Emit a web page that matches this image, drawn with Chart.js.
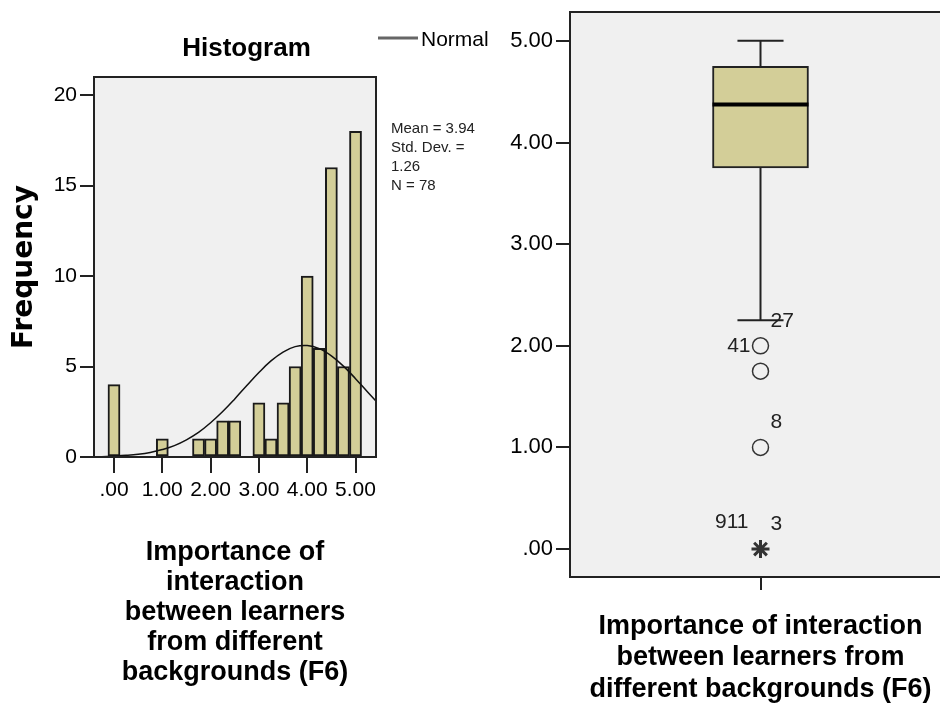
<!DOCTYPE html>
<html>
<head>
<meta charset="utf-8">
<script src="https://cdn.jsdelivr.net/npm/chart.js@4.4.0/dist/chart.umd.min.js"></script>
<style>
  html, body { margin: 0; padding: 0; background: #fff; overflow: hidden; width: 940px; height: 713px; }
  canvas { position: absolute; top: 0; }
  #histChart { left: 0; }
  #boxChart { left: 470px; }
</style>
</head>
<body>
<canvas id="histChart" width="493" height="713"></canvas>
<canvas id="boxChart" width="493" height="713"></canvas>
<script>
// histogram: bin centres (width .25) and counts, N = 78
const binCenters = [0, 1.0, 1.75, 2.0, 2.25, 2.5, 3.0, 3.25, 3.5, 3.75, 4.0, 4.25, 4.5, 4.75, 5.0];
const binCounts = [4, 1, 1, 1, 2, 2, 3, 1, 3, 5, 10, 6, 16, 5, 18];

// normal curve
const normalX = [-0.5, -0.25, 0, 0.25, 0.5, 0.75, 1, 1.25, 1.5, 1.75, 2, 2.25, 2.5, 2.75, 3, 3.25, 3.5, 3.75, 4, 4.25, 4.5, 4.75, 5, 5.25, 5.5];
const normalY = [0.01, 0.02, 0.05, 0.09, 0.15, 0.25, 0.41, 0.63, 0.95, 1.36, 1.89, 2.51, 3.21, 3.95, 4.67, 5.31, 5.80, 6.10, 6.16, 5.99, 5.59, 5.02, 4.33, 3.59, 2.87];

const histXTicks = [0, 1, 2, 3, 4, 5];
const histXLabels = ['.00', '1.00', '2.00', '3.00', '4.00', '5.00'];
const histYTicks = [0, 5, 10, 15, 20];
const histTitle = 'Histogram';
const statsLines = ['Mean = 3.94', 'Std. Dev. =', '1.26', 'N = 78'];
const histXTitle = ['Importance of', 'interaction', 'between learners', 'from different', 'backgrounds (F6)'];

// box plot
const boxCategory = ['F6'];
const whiskerLow = 2.25, q1 = 3.75, median = 4.375, q3 = 4.75, whiskerHigh = 5.0;
const outlierValues = [2.0, 1.75, 1.0, 0];
const outlierStyles = ['circle', 'circle', 'circle', 'star'];
const caseLabels = [['41', 2.0, 'left'], ['27', 2.0, 'upRight'], ['8', 1.0, 'upRight'], ['911', 0, 'upLeft'], ['3', 0, 'upRight']];
const boxYTicks = [0, 1, 2, 3, 4, 5];
const boxYLabels = ['.00', '1.00', '2.00', '3.00', '4.00', '5.00'];
const boxXTitle = ['Importance of interaction', 'between learners from', 'different backgrounds (F6)'];

const FONT = '"Liberation Sans", Arial, sans-serif';
const BAR_FILL = '#d3ce98';
const INK = '#222';

Chart.defaults.color = '#000';
Chart.defaults.font.family = FONT;

// keep the plot areas where they are in the picture
const noScalePad = s => { s.paddingTop = 0; s.paddingBottom = 0; s.paddingLeft = 0; s.paddingRight = 0; };

// grey plot background and frame
const plotFrame = {
  id: 'plotFrame',
  beforeDraw(chart) {
    const { ctx, chartArea: a } = chart;
    ctx.save();
    ctx.fillStyle = '#f0f0f0';
    ctx.fillRect(a.left, a.top, a.width, a.height);
    ctx.restore();
  },
  afterDatasetsDraw(chart) {
    const { ctx, chartArea: a } = chart;
    ctx.save();
    ctx.strokeStyle = INK;
    ctx.lineWidth = 2;
    ctx.strokeRect(a.left, a.top, a.width, a.height);
    ctx.restore();
  }
};

// title, legend entry and summary stats of the histogram
const histNotes = {
  id: 'histNotes',
  afterDraw(chart) {
    const { ctx, chartArea: a } = chart;
    ctx.save();
    ctx.fillStyle = '#000';
    ctx.textBaseline = 'middle';
    ctx.textAlign = 'center';
    ctx.font = 'bold 26px ' + FONT;
    ctx.fillText(histTitle, 246.5, 49);

    ctx.strokeStyle = '#666';
    ctx.lineWidth = 3;
    ctx.beginPath();
    ctx.moveTo(a.right + 2, 38);
    ctx.lineTo(a.right + 42, 38);
    ctx.stroke();
    ctx.textAlign = 'left';
    ctx.font = '21px ' + FONT;
    ctx.fillText('Normal', a.right + 45, 40);

    ctx.fillStyle = '#222';
    ctx.font = '15px ' + FONT;
    statsLines.forEach((t, i) => ctx.fillText(t, a.right + 15, 129 + i * 19));
    ctx.restore();
  }
};

// whiskers, median and case numbers of the box plot
const boxExtras = {
  id: 'boxExtras',
  afterDatasetsDraw(chart) {
    const { ctx, scales: { y } } = chart;
    const bar = chart.getDatasetMeta(1).data[0];
    const cx = bar.x, half = bar.width / 2, cap = bar.width * 0.24;
    const line = (x1, y1, x2, y2) => { ctx.beginPath(); ctx.moveTo(x1, y1); ctx.lineTo(x2, y2); ctx.stroke(); };
    ctx.save();
    ctx.strokeStyle = INK;
    ctx.lineWidth = 2;
    line(cx, y.getPixelForValue(whiskerHigh), cx, y.getPixelForValue(q3));
    line(cx, y.getPixelForValue(q1), cx, y.getPixelForValue(whiskerLow));
    line(cx - cap, y.getPixelForValue(whiskerHigh), cx + cap, y.getPixelForValue(whiskerHigh));
    line(cx - cap, y.getPixelForValue(whiskerLow), cx + cap, y.getPixelForValue(whiskerLow));
    ctx.strokeStyle = '#000';
    ctx.lineWidth = 4;
    line(cx - half, y.getPixelForValue(median), cx + half, y.getPixelForValue(median));

    ctx.fillStyle = '#222';
    ctx.font = '21px ' + FONT;
    ctx.textBaseline = 'middle';
    caseLabels.forEach(([txt, v, side]) => {
      const py = y.getPixelForValue(v);
      if (side === 'left') { ctx.textAlign = 'right'; ctx.fillText(txt, cx - 10, py); }
      else if (side === 'upLeft') { ctx.textAlign = 'right'; ctx.fillText(txt, cx - 12, py - 27); }
      else { ctx.textAlign = 'left'; ctx.fillText(txt, cx + 10, py - 25); }
    });
    ctx.restore();
  }
};

new Chart(document.getElementById('histChart'), {
  type: 'bar',
  data: {
    datasets: [
      {
        type: 'line',
        label: 'Normal',
        data: normalX.map((x, i) => ({ x, y: normalY[i] })),
        borderColor: '#111',
        borderWidth: 1.5,
        pointRadius: 0,
        tension: 0.4,
        order: 0
      },
      {
        label: 'Frequency',
        data: binCenters.map((x, i) => ({ x, y: binCounts[i] })),
        backgroundColor: BAR_FILL,
        borderColor: '#1a1a1a',
        borderWidth: 2,
        borderSkipped: false,
        barPercentage: 1,
        categoryPercentage: 1,
        order: 1
      }
    ]
  },
  options: {
    responsive: false,
    animation: false,
    layout: { padding: { top: 77, right: 117, left: 0, bottom: 0 } },
    plugins: { legend: { display: false }, tooltip: { enabled: false } },
    scales: {
      x: {
        type: 'linear',
        min: -0.414,
        max: 5.424,
        offset: false,
        afterBuildTicks: s => { s.ticks = histXTicks.map(v => ({ value: v })); },
        afterFit: s => { s.height = 256; noScalePad(s); },
        ticks: { callback: (v, i) => histXLabels[i], font: { size: 21 }, padding: 5, maxRotation: 0, autoSkip: false },
        grid: { drawOnChartArea: false, offset: false, tickLength: 16, color: INK, lineWidth: 2 },
        border: { display: true, color: INK, width: 2 },
        title: { display: true, text: histXTitle, font: { size: 27, weight: 'bold', lineHeight: '30px' }, padding: { top: 0, bottom: 25.5 } }
      },
      y: {
        min: 0,
        max: 21,
        afterBuildTicks: s => { s.ticks = histYTicks.map(v => ({ value: v })); },
        afterFit: s => { s.width = 94; noScalePad(s); },
        ticks: { font: { size: 21 }, padding: 3 },
        grid: { drawOnChartArea: false, tickLength: 14, color: INK, lineWidth: 2 },
        border: { display: true, color: INK, width: 2 },
        title: { display: true, text: 'Frequency', font: { family: 'DejaVu Sans', size: 28, weight: 'bold' }, padding: { top: 8, bottom: 0 } }
      }
    }
  },
  plugins: [plotFrame, histNotes]
});

new Chart(document.getElementById('boxChart'), {
  type: 'bar',
  data: {
    labels: boxCategory,
    datasets: [
      {
        type: 'line',
        label: 'Outliers',
        data: outlierValues.map(v => ({ x: boxCategory[0], y: v })),
        showLine: false,
        pointStyle: outlierStyles,
        pointRadius: [8, 8, 8, 9],
        pointBorderWidth: [1.5, 1.5, 1.5, 3],
        pointBorderColor: '#333',
        pointBackgroundColor: 'rgba(0,0,0,0)',
        order: 0
      },
      {
        label: 'F6',
        data: [[q1, q3]],
        backgroundColor: BAR_FILL,
        borderColor: INK,
        borderWidth: 2,
        borderSkipped: false,
        barThickness: 96,
        order: 1
      }
    ]
  },
  options: {
    responsive: false,
    animation: false,
    layout: { padding: { top: 10, right: 0, left: 0, bottom: 0 } },
    plugins: { legend: { display: false }, tooltip: { enabled: false } },
    scales: {
      x: {
        type: 'category',
        afterFit: s => { s.height = 136; noScalePad(s); },
        ticks: { callback: () => '', padding: 0 },
        grid: { drawOnChartArea: false, offset: false, tickLength: 13, color: INK, lineWidth: 2 },
        border: { display: true, color: INK, width: 2 },
        title: { display: true, text: boxXTitle, font: { size: 27, weight: 'bold', lineHeight: '31.5px' }, padding: { top: 0, bottom: 8 } }
      },
      y: {
        min: -0.275,
        max: 5.284,
        afterBuildTicks: s => { s.ticks = boxYTicks.map(v => ({ value: v })); },
        afterFit: s => { s.width = 100; noScalePad(s); },
        ticks: { callback: (v, i) => boxYLabels[i], font: { size: 22 }, padding: 3 },
        grid: { drawOnChartArea: false, tickLength: 14, color: INK, lineWidth: 2 },
        border: { display: true, color: INK, width: 2 }
      }
    }
  },
  plugins: [plotFrame, boxExtras]
});
</script>
</body>
</html>
